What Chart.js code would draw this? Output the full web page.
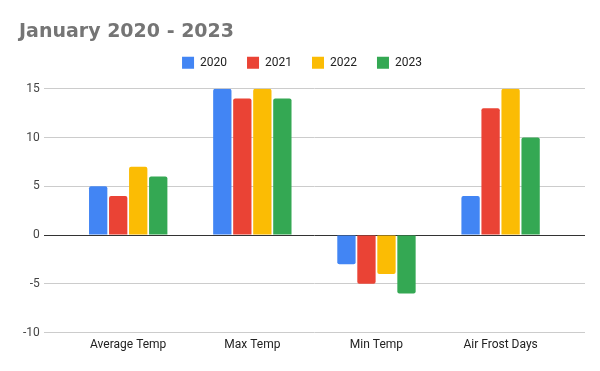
<!DOCTYPE html>
<html>
<head>
<meta charset="utf-8">
<script src="https://cdn.jsdelivr.net/npm/chart.js@4"></script>
<style>
  html, body { margin: 0; padding: 0; background: #fff; }
  #wrap { width: 600px; height: 371px; }
</style>
</head>
<body>
<div id="wrap"><canvas id="chart"></canvas></div>
<script>
const categories = ["Average Temp", "Max Temp", "Min Temp", "Air Frost Days"];
const years = ["2020", "2021", "2022", "2023"];
const values2020 = [5, 15, -3, 4];
const values2021 = [4, 14, -5, 13];
const values2022 = [7, 15, -4, 15];
const values2023 = [6, 14, -6, 10];
const colors = ["#4285F4", "#EA4335", "#FBBC04", "#34A853"];

const series = [values2020, values2021, values2022, values2023];
const ctx = document.getElementById("chart").getContext("2d");

// a bit of extra room under the legend, like the sheets chart
const legendGap = {
  id: "legendGap",
  beforeInit(chart) {
    const fit = chart.legend.fit;
    chart.legend.fit = function () {
      fit.call(this);
      this.height += 10;
    };
  }
};

new Chart(ctx, {
  type: "bar",
  data: {
    datasets: series.map((vals, i) => ({
      label: years[i],
      data: vals.map((v, j) => ({ x: j, y: v })),
      backgroundColor: colors[i],
      borderRadius: 2,
      borderSkipped: "start",
      barPercentage: 0.915,
      categoryPercentage: 0.645
    }))
  },
  plugins: [legendGap],
  options: {
    responsive: true,
    maintainAspectRatio: false,
    animation: false,
    layout: { padding: { left: 19, right: 15, bottom: 14 } },
    plugins: {
      title: {
        display: true,
        text: "January 2020 - 2023",
        align: "start",
        color: "#757575",
        font: { family: "'DejaVu Sans'", size: 19, weight: "bold" },
        padding: { top: 21, bottom: -7 }
      },
      legend: {
        position: "top",
        labels: {
          boxWidth: 12,
          boxHeight: 12,
          padding: 20,
          color: "#222",
          font: { family: "Roboto", size: 12 }
        }
      },
      tooltip: { enabled: false }
    },
    scales: {
      x: {
        type: "linear",
        offset: false,
        min: -0.68,
        max: 3.68,
        afterBuildTicks: scale => {
          scale.ticks = scale.ticks.filter(t => Number.isInteger(t.value) && t.value >= 0 && t.value < categories.length);
        },
        grid: { display: false, drawTicks: false, offset: false },
        border: { display: false },
        ticks: {
          stepSize: 1,
          autoSkip: false,
          maxRotation: 0,
          color: "#222",
          font: { family: "Roboto", size: 12 },
          padding: 5,
          callback: v => categories[v]
        }
      },
      y: {
        min: -10,
        max: 15,
        ticks: { stepSize: 5, color: "#444", font: { family: "Roboto", size: 12 }, padding: 4 },
        border: { display: false },
        grid: {
          color: c => c.tick.value === 0 ? "#333" : "#ccc",
          lineWidth: 1,
          drawTicks: false
        }
      }
    }
  }
});
</script>
</body>
</html>
